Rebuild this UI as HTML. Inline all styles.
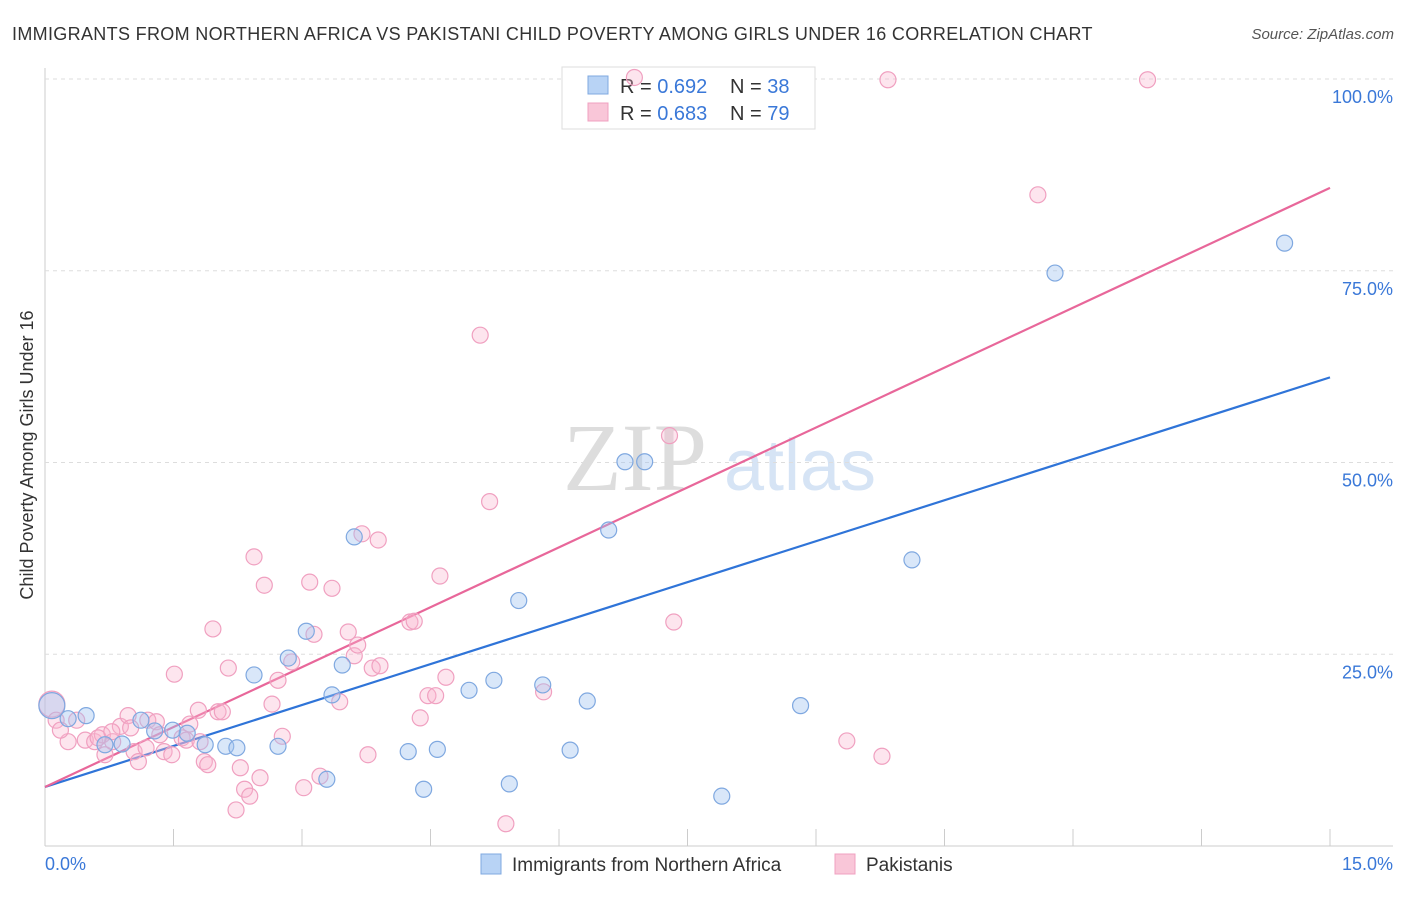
<!DOCTYPE html>
<html><head><meta charset="utf-8"><style>
body{margin:0;background:#fff;font-family:"Liberation Sans",sans-serif}
</style></head><body>
<svg id="c" width="1406" height="892" xmlns="http://www.w3.org/2000/svg">
<text x="12" y="40" font-size="18" fill="#333" letter-spacing="0.33">IMMIGRANTS FROM NORTHERN AFRICA VS PAKISTANI CHILD POVERTY AMONG GIRLS UNDER 16 CORRELATION CHART</text>
<text x="1394" y="39" font-size="15" fill="#555" font-style="italic" text-anchor="end">Source: ZipAtlas.com</text>
<text x="635" y="490" font-size="96" fill="#ddd" font-family="Liberation Serif" text-anchor="middle">ZIP</text>
<text x="800" y="490" font-size="72" fill="#d6e4f5" text-anchor="middle">atlas</text>
<text transform="translate(33,455) rotate(-90)" font-size="18" fill="#333" text-anchor="middle">Child Poverty Among Girls Under 16</text>
<g id="grid"></g>
<g>
<rect x="562" y="67" width="253" height="62" fill="#fff" stroke="#ddd"/>
<rect x="588" y="76" width="20" height="18" fill="#b8d3f5" stroke="#7fa8e0"/>
<rect x="588" y="103" width="20" height="18" fill="#f9c6d8" stroke="#f0a0c0"/>
<text x="620" y="93" font-size="20" fill="#333">R = <tspan fill="#3a78d8">0.692</tspan></text>
<text x="730" y="93" font-size="20" fill="#333">N = <tspan fill="#3a78d8">38</tspan></text>
<text x="620" y="120" font-size="20" fill="#333">R = <tspan fill="#3a78d8">0.683</tspan></text>
<text x="730" y="120" font-size="20" fill="#333">N = <tspan fill="#3a78d8">79</tspan></text>
</g>
<g id="lines"></g><g id="pts"></g>
<g>
<rect x="481" y="854" width="20" height="20" fill="#b8d3f5" stroke="#7fa8e0"/>
<text x="512" y="871" font-size="19" fill="#333">Immigrants from Northern Africa</text>
<rect x="835" y="854" width="20" height="20" fill="#f9c6d8" stroke="#f0a0c0"/>
<text x="866" y="871" font-size="19" fill="#333">Pakistanis</text>
</g>
</svg>
<script>
const yTicks=[100,75,50,25];
const yTickLabels=["100.0%","75.0%","50.0%","25.0%"];
const xEndLabels=["0.0%","15.0%"];
const blueX=[0.08,0.27,0.48,0.70,0.90,1.12,1.28,1.49,1.66,1.87,2.11,2.24,2.44,2.72,2.84,3.05,3.35,3.29,3.47,3.61,4.24,4.42,4.58,4.95,5.24,5.42,5.53,5.81,6.13,6.33,6.58,6.77,7.00,7.90,8.82,10.12,11.79,14.47];
const blueY=[18.3,16.6,17.0,13.2,13.3,16.4,15.0,15.1,14.7,13.2,13.0,12.8,22.3,13.0,24.5,28.0,19.7,8.7,23.6,40.3,12.3,7.4,12.6,20.3,21.6,8.1,32.0,21.0,12.5,18.9,41.2,50.1,50.1,6.5,18.3,37.3,74.7,78.6];
const pinkX=[0.08,0.13,0.27,0.37,0.47,0.58,0.67,0.70,0.79,0.88,0.97,1.0,1.04,1.09,1.20,1.30,1.39,1.48,1.51,1.60,1.69,1.79,1.86,1.90,1.96,2.02,2.07,2.14,2.28,2.33,2.39,2.23,2.44,2.51,2.56,2.65,2.72,2.77,2.88,3.02,3.09,3.14,3.21,3.35,3.44,3.54,3.61,3.65,3.70,3.77,3.82,3.89,3.91,4.26,4.31,4.38,4.47,4.56,4.61,4.68,5.08,5.19,5.38,5.82,6.88,7.29,7.34,9.36,9.77,9.84,11.59,12.87,0.18,0.62,0.78,1.34,1.65,1.18,1.81];
const pinkY=[18.5,16.4,13.6,16.4,13.8,13.6,14.5,11.9,13.6,15.6,17.0,15.4,12.3,11.0,16.4,16.2,12.3,11.9,22.4,14.1,15.9,17.7,11.0,10.6,28.3,17.5,17.5,23.2,10.2,7.4,6.5,4.7,37.7,8.9,34.0,18.5,21.6,14.3,24.0,7.6,34.4,27.6,9.1,33.6,18.8,27.9,24.8,26.2,40.7,11.9,23.2,39.9,23.5,29.2,29.3,16.7,19.6,19.6,35.2,22.0,66.6,44.9,2.9,20.1,100.2,53.5,29.2,13.7,11.7,99.9,84.9,99.9,15.1,14.1,14.9,14.5,13.8,12.8,13.6];
const blueLine=[7.7,61.1];
const pinkLine=[7.7,85.8];
const X=v=>45+v*(1330-45)/15, Y=v=>846-v*(846-79)/100;
const NS="http://www.w3.org/2000/svg";
function mk(p,t,a){const e=document.createElementNS(NS,t);for(const k in a)e.setAttribute(k,a[k]);p.appendChild(e);return e;}
const g=document.getElementById('grid');
let ax=mk(g,'line',{x1:45,y1:68,x2:45,y2:846,stroke:'#ccc'});


let bx=mk(g,'line',{x1:45,y1:846,x2:1393,y2:846,stroke:'#ccc'});


yTicks.forEach((t,i)=>{
 const l=mk(g,'line',{x1:45,x2:1393,y1:Y(t),y2:Y(t),stroke:'#ddd','stroke-dasharray':'4,4'});
 
 
 const tx=mk(g,'text',{x:1393,y:Y(t)+24,'font-size':18,fill:'#3a78d8','text-anchor':'end'});tx.textContent=yTickLabels[i];
 
 
});
for(let i=0;i<=10;i++){const v=i*1.5;const l=mk(g,'line',{x1:X(v),x2:X(v),y1:829,y2:846,stroke:'#ccc'});
 
 }
[[0,45,'start'],[15,1393,'end']].forEach((d,i)=>{const t=mk(g,'text',{x:d[1],y:870,'font-size':18,fill:'#3a78d8','text-anchor':d[2]});t.textContent=xEndLabels[i];
 
 });
const pg=document.getElementById('pts');
function pts(xs,ys,fill,stroke,name){xs.forEach((x,i)=>{const big=i==0;const c=mk(pg,'circle',{cx:X(x),cy:Y(ys[i]),r:big?13:8,fill:fill,stroke:stroke,'stroke-width':1.2});
 
 });}
pts(pinkX,pinkY,'rgba(248,180,205,0.35)','#f0a0c0','pakistani-point');
pts(blueX,blueY,'rgba(160,195,240,0.4)','#7fa8e0','n-africa-point');
const lg=document.getElementById('lines');
let b=mk(lg,'line',{x1:X(0),y1:Y(blueLine[0]),x2:X(15),y2:Y(blueLine[1]),stroke:'#2f74d8','stroke-width':2.2});


let p=mk(lg,'line',{x1:X(0),y1:Y(pinkLine[0]),x2:X(15),y2:Y(pinkLine[1]),stroke:'#e8679a','stroke-width':2.2});


</script>
</body></html>
